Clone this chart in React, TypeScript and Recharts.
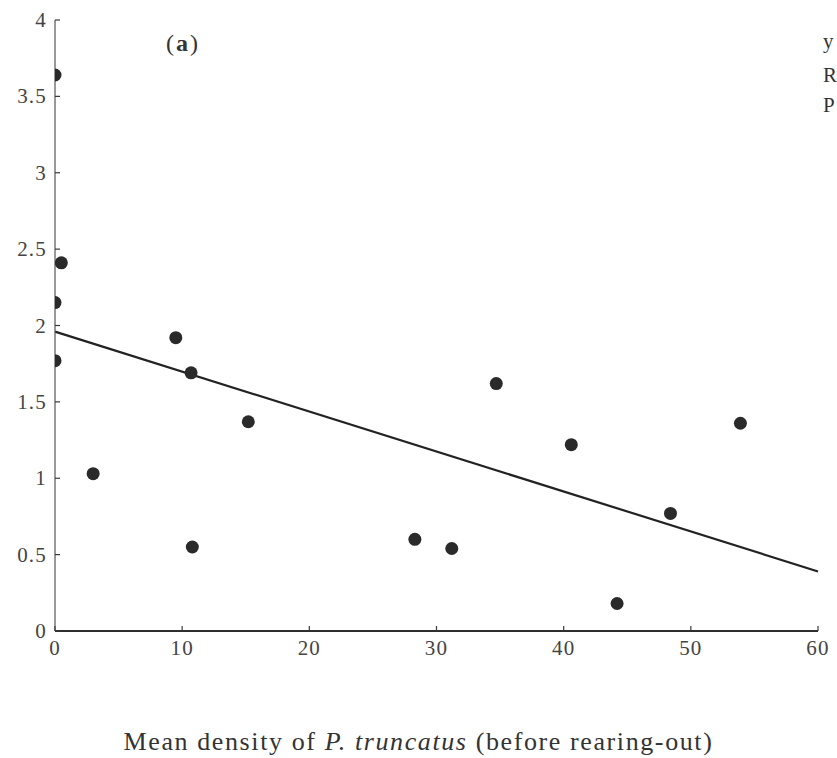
import {
  ComposedChart,
  Scatter,
  XAxis,
  YAxis,
  ReferenceLine,
} from "recharts";

// Mean density of P. truncatus (before rearing-out)
const densityValues = [
  0, 0.5, 0, 0, 3.0, 9.5, 10.7, 10.8, 15.2, 28.3, 31.2, 34.7, 40.6, 44.2, 48.4, 53.9,
];
const responseValues = [
  3.64, 2.41, 2.15, 1.77, 1.03, 1.92, 1.69, 0.55, 1.37, 0.6, 0.54, 1.62, 1.22, 0.18, 0.77, 1.36,
];

// fitted regression line ends
const fitX = [0, 60];
const fitY = [1.96, 0.39];

const xTicks = [0, 10, 20, 30, 40, 50, 60];
const yTicks = [0, 0.5, 1, 1.5, 2, 2.5, 3, 3.5, 4];

// regression stats, cut off at the right edge in the source
const statLines = ["y", "R", "P"];

const points = densityValues.map((d, i) => ({ x: d, y: responseValues[i] }));

const FONT = '"Liberation Serif", "DejaVu Serif", serif';
const INK = "#3a3a3a";

const YTick = (props: any) => {
  const { x, y, payload } = props;
  return (
    <g>
      <line x1={x} x2={x + 5} y1={y} y2={y} stroke={INK} strokeWidth={1.2} />
      <text
        x={x - 8}
        y={y + 7}
        textAnchor="end"
        fontFamily={FONT}
        fontSize={21}
        letterSpacing={1.2}
        fill="#444"
      >
        {payload.value}
      </text>
    </g>
  );
};

const XTick = (props: any) => {
  const { x, y, payload } = props;
  return (
    <g>
      <line x1={x} x2={x} y1={y} y2={y - 5} stroke={INK} strokeWidth={1.2} />
      <text
        x={x}
        y={y + 24}
        textAnchor="middle"
        fontFamily={FONT}
        fontSize={21}
        letterSpacing={1.2}
        fill="#444"
      >
        {payload.value}
      </text>
    </g>
  );
};

export default function App() {
  return (
    <div
      style={{
        position: "absolute",
        left: 0,
        top: 0,
        width: 837,
        height: 758,
        background: "#fff",
        overflow: "hidden",
      }}
    >
      <ComposedChart
        width={837}
        height={758}
        data={points}
        margin={{ top: 20, right: 19, bottom: 0, left: 0 }}
      >
        <XAxis
          type="number"
          dataKey="x"
          domain={[0, 60]}
          ticks={xTicks}
          tick={<XTick />}
          tickLine={false}
          tickSize={0}
          tickMargin={0}
          height={127}
          axisLine={{ stroke: "#2e2e2e", strokeWidth: 2 }}
          allowDataOverflow
        />
        <YAxis
          type="number"
          dataKey="y"
          domain={[0, 4]}
          ticks={yTicks}
          tick={<YTick />}
          tickLine={false}
          tickSize={0}
          tickMargin={0}
          width={55}
          axisLine={{ stroke: "#555", strokeWidth: 1.2 }}
          allowDataOverflow
        />
        <ReferenceLine
          segment={[
            { x: fitX[0], y: fitY[0] },
            { x: fitX[1], y: fitY[1] },
          ]}
          stroke="#222"
          strokeWidth={2.2}
          ifOverflow="visible"
        />
        <Scatter
          data={points}
          dataKey="y"
          fill="#2a2a2a"
          isAnimationActive={false}
          shape={(p: any) => (
            <circle cx={p.cx} cy={p.cy} r={6.5} fill="#2a2a2a" />
          )}
        />
      </ComposedChart>
      <div
        style={{
          position: "absolute",
          left: 166,
          top: 29,
          fontFamily: FONT,
          fontSize: 24,
          lineHeight: "28px",
          letterSpacing: 2,
          color: "#333",
        }}
      >
        (<b>a</b>)
      </div>
      {statLines.map((s, i) => (
        <div
          key={s}
          style={{
            position: "absolute",
            left: 823,
            top: [28, 62, 92][i],
            fontFamily: FONT,
            fontSize: 21,
            lineHeight: "26px",
            color: "#333",
            whiteSpace: "nowrap",
          }}
        >
          {s}
        </div>
      ))}
      <div
        style={{
          position: "absolute",
          left: 0,
          width: 837,
          top: 726,
          textAlign: "center",
          fontFamily: FONT,
          fontSize: 26,
          lineHeight: "32px",
          letterSpacing: 1.6,
          color: "#333",
        }}
      >
        Mean density of <i>P. truncatus</i> (before rearing-out)
      </div>
    </div>
  );
}
